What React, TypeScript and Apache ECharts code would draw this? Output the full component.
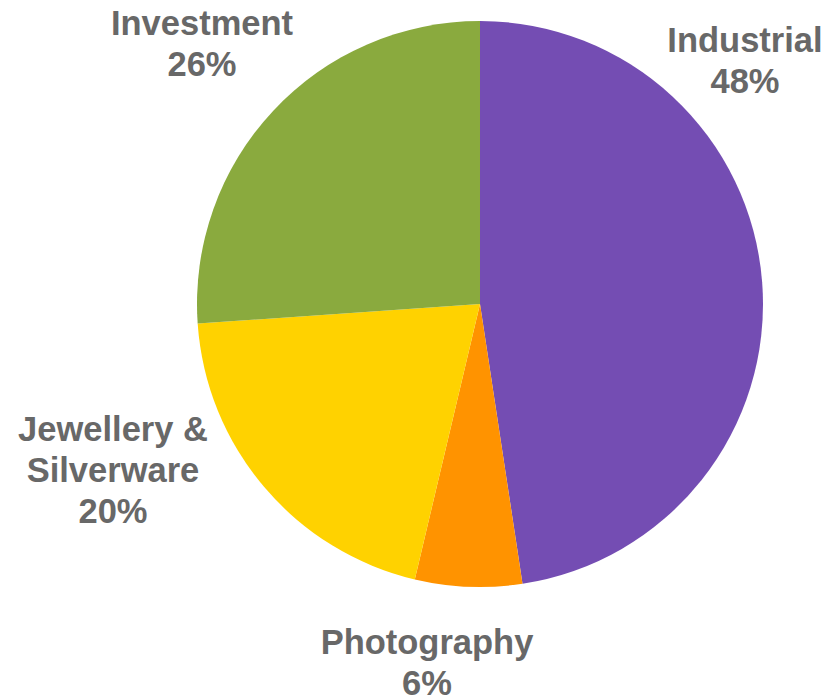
import React, { useEffect, useRef } from "react";
import * as echarts from "echarts";

const categories = ["Industrial", "Photography", "Jewellery &\nSilverware", "Investment"];
const values = [47.6, 6.1, 20.2, 26.1];
const colors = ["#744DB3", "#FF9300", "#FFD200", "#8AAA3E"];
// label anchor positions (layout only)
const labelPos: [number, number][] = [
  [745, 60],
  [427, 662],
  [113, 470],
  [202, 43],
];

export default function App() {
  const ref = useRef<HTMLDivElement>(null);
  useEffect(() => {
    if (!ref.current) return;
    const chart = echarts.init(ref.current, null, { renderer: "svg" });
    chart.setOption({
      animation: false,
      backgroundColor: "#ffffff",
      series: [
        {
          type: "pie",
          center: [480, 304],
          radius: 283,
          startAngle: 90,
          clockwise: true,
          avoidLabelOverlap: false,
          data: categories.map((name, i) => ({
            name,
            value: values[i],
            itemStyle: { color: colors[i] },
          })),
          itemStyle: { borderWidth: 0 },
          emphasis: { disabled: true },
          label: {
            show: true,
            position: "outside",
            formatter: (p: any) => `${p.name}\n${Math.round(p.percent)}%`,
            fontFamily: "Liberation Sans, Arial, sans-serif",
            fontWeight: "bold",
            fontSize: 34.5,
            lineHeight: 41,
            color: "#686868",
            align: "center",
          },
          labelLine: { show: false },
          labelLayout: (params: any) => {
            const pos = labelPos[params.dataIndex];
            return { x: pos[0], y: pos[1], align: "center", verticalAlign: "middle" };
          },
        },
      ],
    });
    return () => chart.dispose();
  }, []);
  return (
    <div
      ref={ref}
      style={{ position: "fixed", left: 0, top: 0, width: 835, height: 698 }}
    />
  );
}
